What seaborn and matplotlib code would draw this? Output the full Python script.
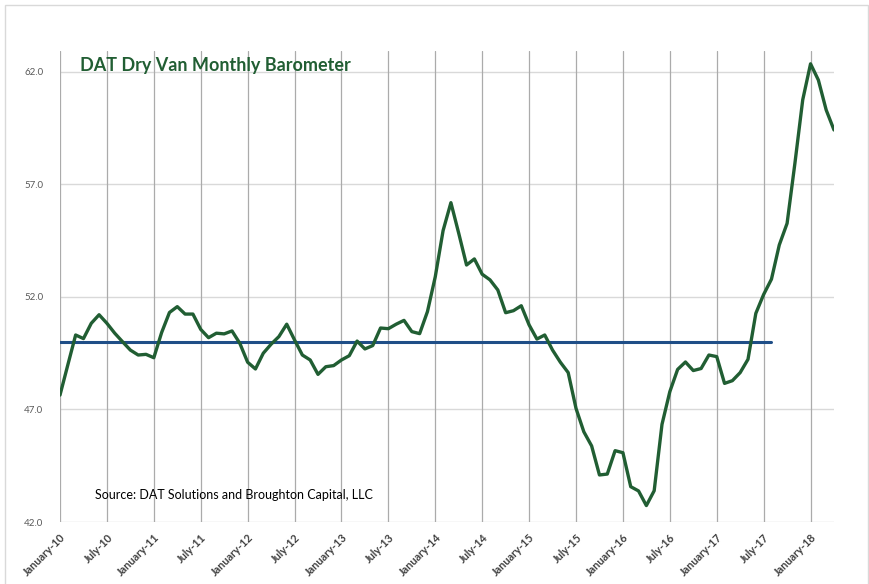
import matplotlib
matplotlib.use("Agg")
import matplotlib.pyplot as plt
import seaborn as sns
import pandas as pd
from matplotlib.patches import FancyBboxPatch

# ---- data ----
months = pd.period_range("2010-01", "2018-04", freq="M").strftime("%Y-%m").tolist()
barometer = [
    47.64, 48.98, 50.31, 50.15, 50.83, 51.21, 50.83, 50.39, 50.01, 49.64, 49.42, 49.45,
    49.30, 50.42, 51.31, 51.57, 51.24, 51.24, 50.56, 50.19, 50.39, 50.36, 50.49, 49.94,
    49.10, 48.80, 49.50, 49.90, 50.24, 50.79, 50.09, 49.42, 49.20, 48.56, 48.90, 48.95,
    49.20, 49.39, 50.04, 49.69, 49.84, 50.62, 50.59, 50.79, 50.96, 50.46, 50.37, 51.35,
    52.90, 54.95, 56.19, 54.83, 53.42, 53.69, 53.01, 52.76, 52.31, 51.30, 51.39, 51.61,
    50.76, 50.13, 50.31, 49.64, 49.10, 48.64, 47.05, 46.01, 45.38, 44.09, 44.13, 45.17,
    45.08, 43.57, 43.38, 42.73, 43.39, 46.34, 47.79, 48.78, 49.11, 48.73, 48.82, 49.42,
    49.35, 48.16, 48.28, 48.64, 49.23, 51.27, 52.11, 52.79, 54.31, 55.27, 57.94, 60.76,
    62.36, 61.64, 60.31, 59.42,
]
neutral_level = 50.0
neutral_last_month = "2017-08"
tick_months = ["2010-01", "2010-07", "2011-01", "2011-07", "2012-01", "2012-07",
               "2013-01", "2013-07", "2014-01", "2014-07", "2015-01", "2015-07",
               "2016-01", "2016-07", "2017-01", "2017-07", "2018-01"]
tick_labels = ["January-10", "July-10", "January-11", "July-11", "January-12", "July-12",
               "January-13", "July-13", "January-14", "July-14", "January-15", "July-15",
               "January-16", "July-16", "January-17", "July-17", "January-18"]
y_ticks = [42.0, 47.0, 52.0, 57.0, 62.0]
title = "DAT Dry Van Monthly Barometer"
source = "Source: DAT Solutions and Broughton Capital, LLC"

# ---- frames ----
df = pd.DataFrame({"month": months, "value": barometer})
df["pos"] = range(len(df))
base = df[df["month"] <= neutral_last_month].copy()
base["value"] = neutral_level

sns.set_theme(style="white")
plt.rcParams["font.family"] = ["Lato", "DejaVu Sans"]

fig = plt.figure(figsize=(8.7, 5.84), dpi=100)
ax = fig.add_axes([60 / 870, 1 - 522 / 584, (834 - 60) / 870, (522 - 51) / 584])

GREEN = "#215e33"
BLUE = "#1f4e87"

# grid lines
for y in y_ticks:
    ax.axhline(y, color="#d9d9d9", lw=1.0, zorder=0)
pos_map = dict(zip(df["month"], df["pos"]))
tick_pos = [pos_map[m] for m in tick_months]
for x in tick_pos:
    ax.axvline(x, color="#ababab", lw=0.9, zorder=0)

sns.lineplot(data=base, x="pos", y="value", color=BLUE, lw=2.2, ax=ax, zorder=2)
sns.lineplot(data=df, x="pos", y="value", color=GREEN, lw=2.4, ax=ax, zorder=3)

ax.set_xlim(0, len(df) - 1)
ax.set_ylim(42, 62.93)
ax.set_yticks(y_ticks)
ax.set_yticklabels([f"{v:.1f}" for v in y_ticks], fontsize=7, color="#595959")
ax.set_xticks(tick_pos)
ax.set_xticklabels(tick_labels, rotation=45, ha="right", rotation_mode="anchor",
                   fontsize=7.8, color="#404040", fontweight="bold")
ax.tick_params(axis="both", length=0, pad=7)
ax.tick_params(axis="y", pad=12)
ax.set_xlabel("")
ax.set_ylabel("")
for s in ax.spines.values():
    s.set_visible(False)

ax.text(80 / 870, 1 - 66 / 584, title, transform=fig.transFigure, fontsize=13,
        fontweight="bold", color=GREEN, va="center", ha="left")
ax.text(95 / 870, 1 - 495 / 584, source, transform=fig.transFigure, fontsize=9,
        color="#000000", va="center", ha="left")

fig.patches.append(FancyBboxPatch((5 / 870, -0.02), 863 / 870, 1 - 5 / 584 + 0.02,
                                  boxstyle="square,pad=0", transform=fig.transFigure,
                                  fill=False, edgecolor="#d9d9d9", lw=1.0))

fig.savefig("out.png", dpi=100)
